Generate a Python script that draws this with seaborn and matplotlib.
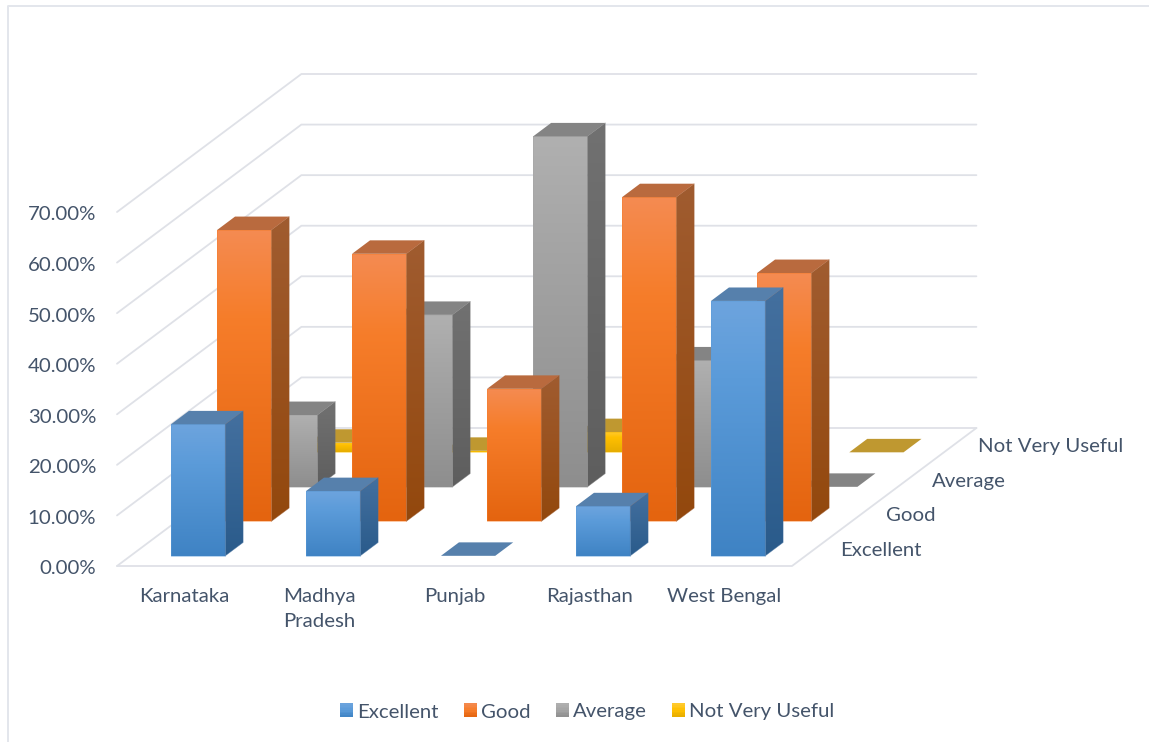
import numpy as np
import pandas as pd
import matplotlib
matplotlib.use("Agg")
import matplotlib.pyplot as plt
import seaborn as sns
from matplotlib.colors import LinearSegmentedColormap
from matplotlib.legend_handler import HandlerBase
from matplotlib.lines import Line2D
from matplotlib.patches import Polygon, Rectangle
from matplotlib.transforms import Affine2D

states = ["Karnataka", "Madhya\nPradesh", "Punjab", "Rajasthan", "West Bengal"]
ratings = ["Excellent", "Good", "Average", "Not Very Useful"]
excellent = [26.0, 12.8, 0.0, 9.8, 50.4]
good = [57.6, 52.9, 26.2, 64.1, 49.1]
average = [14.2, 34.0, 69.3, 25.0, 0.0]
not_very_useful = [1.9, 0.3, 4.0, 1.0, 0.0]
yticks = [0, 10, 20, 30, 40, 50, 60, 70]

front_colors = {"Excellent": ("#6DA4DE", "#5B9BD9", "#3F83C4"),
                "Good": ("#F48B52", "#F67D2A", "#E4640F"),
                "Average": ("#B0B0B0", "#A5A5A5", "#8E8E8E"),
                "Not Very Useful": ("#FFCB35", "#FFC000", "#E6AD00")}
side_colors = {"Excellent": ("#44709F", "#2A5B8B"),
               "Good": ("#A05C30", "#93480D"),
               "Average": ("#717171", "#5E5E5E"),
               "Not Very Useful": ("#A5811F", "#8F7000")}
top_colors = {"Excellent": "#5680AC", "Good": "#B96A3E",
              "Average": "#848484", "Not Very Useful": "#BF9830"}

TEXT = "#44546A"
GRID = "#DFE1E7"
W, H = 1149, 742
FS = 14.65

# Oblique projection: one depth row moves the floor this far, in data units
X0, X1, Y0, Y70 = 117, 792, 566, 212
CAT_PX = (X1 - X0) / 5
PCT_PX = (Y0 - Y70) / 70
DEPTH_X = 46.1 / CAT_PX
DEPTH_Y = 34.5 / PCT_PX
BAR_W = 0.402
BAR_D = 0.39
BAR_GAP = 0.295


def project(x, y, d):
    return x + d * DEPTH_X, y + d * DEPTH_Y


def ramp(colors):
    if len(colors) == 3:
        return LinearSegmentedColormap.from_list(
            "g", [(0.0, colors[0]), (0.3, colors[1]), (1.0, colors[2])])
    return LinearSegmentedColormap.from_list("g", colors)


sns.set_theme(style="white")
plt.rcParams["font.family"] = ["Lato", "DejaVu Sans"]
fig = plt.figure(figsize=(W / 100, H / 100), dpi=100, facecolor="white")
ax = fig.add_axes([X0 / W, 1 - Y0 / H, (X1 - X0) / W, (Y0 - Y70) / H])
ax.patch.set_visible(False)

df = pd.DataFrame({
    "pos": np.tile(np.arange(5) + 0.5, 4),
    "value": excellent + good + average + not_very_useful,
    "rating": np.repeat(ratings, 5),
})
sns.barplot(data=df, x="pos", y="value", hue="rating", hue_order=ratings,
            palette={r: front_colors[r][1] for r in ratings}, dodge=False,
            native_scale=True, width=BAR_W, errorbar=None, legend=False,
            saturation=1, ax=ax)
ax.set_xlim(0, 5)
ax.set_ylim(0, 70)
ax.autoscale(False)


def gradient(poly_xy, colors, zorder):
    poly = Polygon(poly_xy, closed=True, transform=ax.transData)
    xs, ys = np.array(poly_xy).T
    arr = ramp(colors)(np.linspace(0, 1, 128))[:, None, :]
    im = ax.imshow(arr, extent=(xs.min(), xs.max(), ys.min(), ys.max()),
                   origin="upper", aspect="auto", interpolation="bilinear",
                   zorder=zorder)
    im.set_clip_box(fig.bbox)
    im.set_clip_path(poly)


# walls and floor
grid_kw = dict(color=GRID, lw=1.3, zorder=1, clip_on=False, solid_capstyle="round")
for v in yticks:
    fx, fy = project(0, v, 0)
    bx, by = project(0, v, 4)
    ex, ey = project(5, v, 4)
    ax.plot([fx, bx, ex], [fy, by, ey], **grid_kw)
fx, fy = project(5, 0, 0)
bx, by = project(5, 0, 4)
ax.plot([0, fx, bx], [0, fy, by], **grid_kw)

# bars: back rows first, so nearer rows cover them
for container, rating, row in zip(ax.containers, ratings, range(4)):
    z = 10 + (3 - row) * 5
    d0 = row + BAR_GAP
    d1 = d0 + BAR_D
    shift = project(0, 0, d0)
    for rect in container:
        x, w, v = rect.get_x(), rect.get_width(), rect.get_height()
        rect.set_transform(Affine2D().translate(*shift) + ax.transData)
        rect.set_clip_on(False)
        rect.set_linewidth(0)
        rect.set_zorder(z)
        xl, xr = x, x + w
        front = [project(xl, 0, d0), project(xr, 0, d0),
                 project(xr, v, d0), project(xl, v, d0)]
        side = [project(xr, 0, d0), project(xr, 0, d1),
                project(xr, v, d1), project(xr, v, d0)]
        top = [project(xl, v, d0), project(xr, v, d0),
               project(xr, v, d1), project(xl, v, d1)]
        if v > 0:
            gradient(front, front_colors[rating], z + 1)
            gradient(side, side_colors[rating], z + 1)
            for pts, col in ((front, front_colors[rating][1]),
                             (side, side_colors[rating][0])):
                ax.add_patch(Polygon(pts, closed=True, fc="none", ec=col, lw=0.5,
                                     alpha=0.6, zorder=z + 2, clip_on=False))
        ax.add_patch(Polygon(top, closed=True, fc=top_colors[rating], ec="none",
                             zorder=z + 2, clip_on=False))

# axis labels
for s in ax.spines.values():
    s.set_visible(False)
ax.set_xticks(np.arange(5) + 0.5, states, fontsize=FS, color=TEXT, linespacing=1.55)
ax.set_yticks(yticks, [f"{v:.2f}%" for v in yticks], fontsize=FS, color=TEXT)
ax.tick_params(axis="x", length=0, pad=16)
ax.tick_params(axis="y", length=0, pad=15)
for lab in ax.get_yticklabels():
    lab.set_transform(lab.get_transform() + Affine2D().translate(0, -1.5))
ax.set_xlabel("")
ax.set_ylabel("")
for row, rating in enumerate(ratings):
    ax.annotate(rating, xy=project(5, 0, row + 0.5), xytext=(18, -1.2),
                textcoords="offset points", ha="left", va="center",
                fontsize=FS, color=TEXT, annotation_clip=False)


# legend with graded swatches
class GradHandler(HandlerBase):
    def create_artists(self, legend, orig, xd, yd, width, height, fontsize, trans):
        cmap = LinearSegmentedColormap.from_list("g", orig)
        n = 8
        return [Rectangle((-xd, -yd + height * (n - 1 - i) / n), width, height / n + 0.2,
                          fc=cmap((i + 0.5) / n), ec="none", transform=trans)
                for i in range(n)]


handles = [front_colors[r] for r in ratings]
leg = fig.legend(handles, ratings, handler_map={tuple: GradHandler()}, ncol=4,
                 loc="center", bbox_to_anchor=(587 / W, 1 - 712 / H), frameon=False,
                 fontsize=FS, labelcolor=TEXT, handlelength=0.64, handleheight=0.64,
                 handletextpad=0.2, columnspacing=1.25, borderpad=0)

# chart frame: only its top and left edges fall inside the picture
fig.add_artist(Line2D([8 / W, 8 / W, 1], [0, 1 - 6 / H, 1 - 6 / H],
                      color="#E3E6EC", lw=1.4, transform=fig.transFigure))

fig.savefig("out.png", dpi=100, facecolor="white")
